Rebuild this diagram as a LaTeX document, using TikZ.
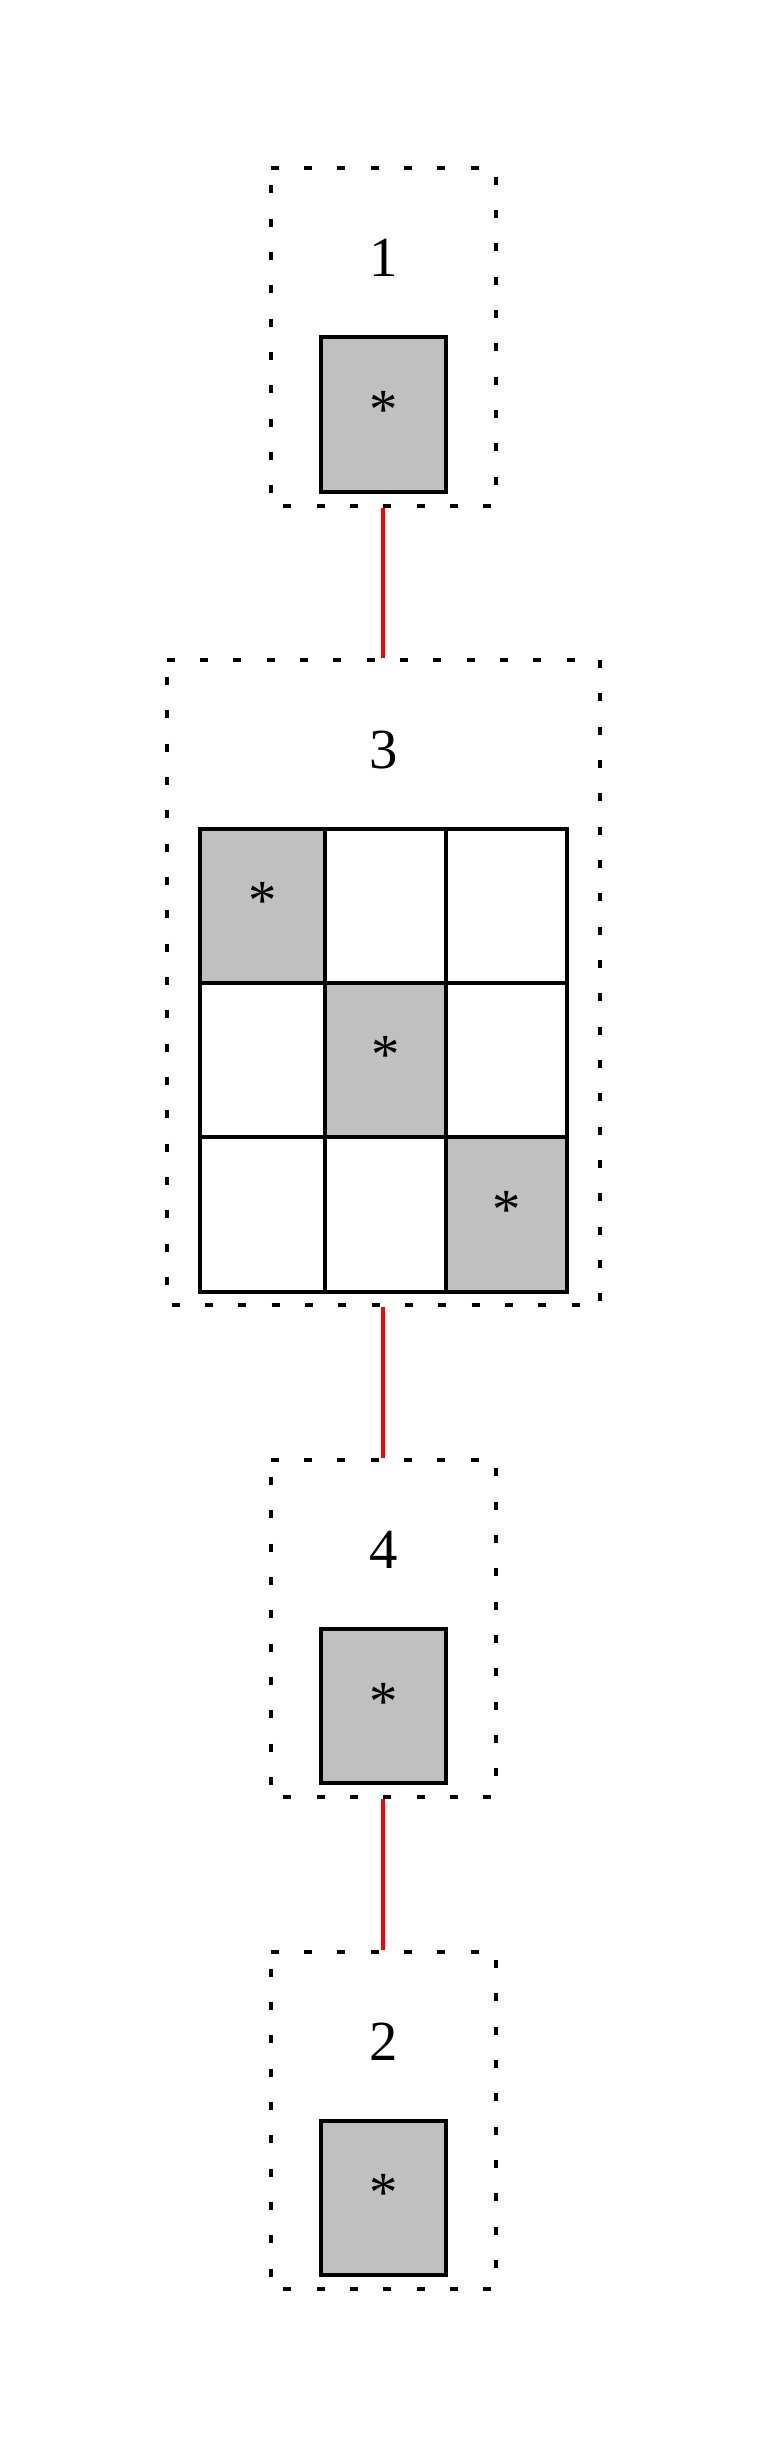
\documentclass[tikz,border=0pt]{standalone}
\usepackage{fontspec}
\setmainfont{Liberation Serif}
\definecolor{cellgray}{HTML}{C0C0C0}
\begin{document}
\begin{tikzpicture}[x=0.5pt,y=-0.5pt,
  cluster/.style={draw=none,rectangle,inner sep=0pt,outer sep=0pt},
  dside/.style={line width=2pt,dash pattern=on 4pt off 12.667pt},
  inbox/.style={draw,line width=2pt,fill=cellgray,rectangle,inner sep=0pt,outer sep=0pt,minimum width=62.65pt,minimum height=77.2pt},
  gridcell/.style={draw,line width=2pt,rectangle,inner sep=0pt,outer sep=0pt,minimum height=77pt},
  lab/.style={font=\fontsize{28.35}{34}\selectfont,inner sep=0pt,anchor=base},
  link/.style={draw=red,line width=2pt,shorten <=1pt,shorten >=1pt}]
\useasboundingbox (0,0) rectangle (767,2459);

% clusters
\node[cluster,minimum width=112.65pt,minimum height=168.7pt] (c1) at (383.35,337.0) {};
\node[cluster,minimum width=216.65pt,minimum height=322.5pt] (c3) at (383.35,982.5) {};
\node[cluster,minimum width=112.65pt,minimum height=168.7pt] (c4) at (383.35,1628.7) {};
\node[cluster,minimum width=112.65pt,minimum height=168.7pt] (c2) at (383.35,2120.4) {};

\foreach \c in {c1,c4,c2}{
  \draw[dside,dash phase=0pt] (\c.north west) -- (\c.north east);
  \draw[dside,dash phase=12.47pt] (\c.north east) -- (\c.south east);
  \draw[dside,dash phase=10.3pt] (\c.south west) -- (\c.south east);
  \draw[dside,dash phase=8.17pt] (\c.north west) -- (\c.south west);
}
\draw[dside,dash phase=0pt] (c3.north west) -- (c3.north east);
\draw[dside,dash phase=0pt] (c3.north east) -- (c3.south east);
\draw[dside,dash phase=14.17pt] (c3.south west) -- (c3.south east);
\draw[dside,dash phase=8.2pt] (c3.north west) -- (c3.south west);

% labels
\node[lab] (l1) at (383.35,276.8) {1};
\node[lab] (l3) at (383.35,768.5) {3};
\node[lab] (l4) at (383.35,1568.5) {4};
\node[lab] (l2) at (383.35,2060.2) {2};

% inner boxes
\node[inbox] (n1) at (383.35,414.5) {};
\node[inbox] (n4) at (383.35,1706.2) {};
\node[inbox] (n2) at (383.35,2197.9) {};
\node[lab] (s1) at (383.35,428.4) {*};
\node[lab] (s4) at (383.35,1720.1) {*};
\node[lab] (s2) at (383.35,2211.8) {*};

% grid
\node[gridcell,fill=cellgray,minimum width=62.5pt] (g11) at (262.5,906) {};
\node[gridcell,fill=white,minimum width=60.5pt] (g12) at (385.5,906) {};
\node[gridcell,fill=white,minimum width=60.5pt] (g13) at (506.5,906) {};
\node[gridcell,fill=white,minimum width=62.5pt] (g21) at (262.5,1060) {};
\node[gridcell,fill=cellgray,minimum width=60.5pt] (g22) at (385.5,1060) {};
\node[gridcell,fill=white,minimum width=60.5pt] (g23) at (506.5,1060) {};
\node[gridcell,fill=white,minimum width=62.5pt,minimum height=77.25pt] (g31) at (262.5,1214.25) {};
\node[gridcell,fill=white,minimum width=60.5pt,minimum height=77.25pt] (g32) at (385.5,1214.25) {};
\node[gridcell,fill=cellgray,minimum width=60.5pt,minimum height=77.25pt] (g33) at (506.5,1214.25) {};
% redraw shared borders so fills do not cover lines
\foreach \g in {g11,g12,g13,g21,g22,g23,g31,g32,g33}{
  \draw[line width=2pt] (\g.north west) rectangle (\g.south east);
}
\node[lab] (s11) at (262.5,919.9) {*};
\node[lab] (s22) at (385.5,1073.9) {*};
\node[lab] (s33) at (506.5,1228.1) {*};

% connectors
\draw[link] (c1.south) -- (c3.north);
\draw[link] (c3.south) -- (c4.north);
\draw[link] (c4.south) -- (c2.north);
\end{tikzpicture}
\end{document}
